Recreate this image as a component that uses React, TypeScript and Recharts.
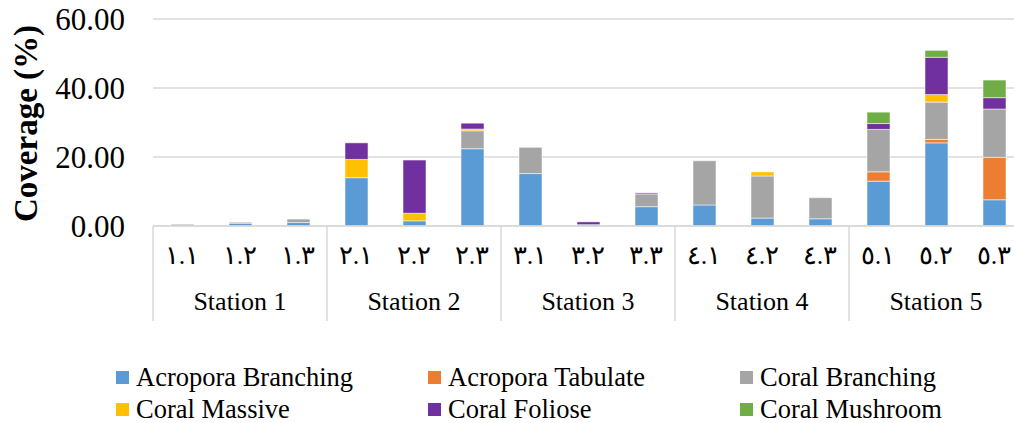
import React from 'react';
import { BarChart, Bar, XAxis, YAxis, CartesianGrid, Legend } from 'recharts';

// Sampling sites (three transects per station)
const subLabels = ['١.١', '١.٢', '١.٣', '٢.١', '٢.٢', '٢.٣', '٣.١', '٣.٢', '٣.٣', '٤.١', '٤.٢', '٤.٣', '٥.١', '٥.٢', '٥.٣'];
const stationNames = ['Station 1', 'Station 2', 'Station 3', 'Station 4', 'Station 5'];

// Coverage (%) per life form
const acroporaBranching = [0, 0.8, 1.0, 14.0, 1.5, 22.4, 15.2, 0.4, 5.6, 6.1, 2.3, 2.1, 13.0, 24.1, 7.6];
const acroporaTabulate = [0, 0, 0, 0, 0, 0, 0, 0, 0, 0, 0, 0, 2.7, 1.0, 12.3];
const coralBranching = [0.5, 0.3, 1.0, 0, 0, 5.2, 7.6, 0, 3.7, 12.8, 12.2, 6.1, 12.3, 10.8, 14.0];
const coralMassive = [0, 0, 0, 5.3, 2.2, 0.5, 0, 0, 0, 0, 1.2, 0, 0, 2.2, 0];
const coralFoliose = [0, 0, 0, 4.8, 15.4, 1.7, 0, 0.8, 0.3, 0, 0, 0, 1.7, 10.8, 3.3];
const coralMushroom = [0, 0, 0, 0, 0, 0, 0, 0, 0, 0, 0, 0, 3.3, 2.0, 5.1];

const yTicks = [0, 20, 40, 60];

const SERIES = [
  { key: 'acroporaBranching', name: 'Acropora Branching', color: '#5B9BD5', values: acroporaBranching },
  { key: 'acroporaTabulate', name: 'Acropora Tabulate', color: '#ED7D31', values: acroporaTabulate },
  { key: 'coralBranching', name: 'Coral Branching', color: '#A5A5A5', values: coralBranching },
  { key: 'coralMassive', name: 'Coral Massive', color: '#FFC000', values: coralMassive },
  { key: 'coralFoliose', name: 'Coral Foliose', color: '#7030A0', values: coralFoliose },
  { key: 'coralMushroom', name: 'Coral Mushroom', color: '#70AD47', values: coralMushroom },
];

const data = subLabels.map((sub, i) => {
  const row: Record<string, string | number> = { sub, station: stationNames[Math.floor(i / 3)] };
  SERIES.forEach((s) => {
    row[s.key] = s.values[i];
  });
  return row;
});

const SERIF = "'Liberation Serif', 'Times New Roman', serif";
const GRID = '#d9d9d9';

// Two-level category axis: transect label, station label and group separators
const GroupTick = (props: any) => {
  const { x, y, payload } = props;
  const i: number = payload.index;
  const half: number = payload.offset || 29;
  return (
    <g>
      <text x={x} y={y + 38} textAnchor="middle" fontSize={26} fontFamily={SERIF} fill="#000">
        {payload.value}
      </text>
      {i % 3 === 1 && (
        <text x={x} y={y + 84} textAnchor="middle" fontSize={26} fontFamily={SERIF} fill="#000">
          {stationNames[Math.floor(i / 3)]}
        </text>
      )}
      {i % 3 === 0 && <line x1={x - half} x2={x - half} y1={y} y2={y + 95} stroke={GRID} strokeWidth={1.5} />}
      {i === subLabels.length - 1 && (
        <line x1={x + half} x2={x + half} y1={y} y2={y + 95} stroke={GRID} strokeWidth={1.5} />
      )}
    </g>
  );
};

const YTitle = (props: any) => {
  const vb = props.viewBox || { x: 0, y: 0, height: 0 };
  const cx = vb.x + 37;
  const cy = vb.y + vb.height / 2 + 1;
  return (
    <text
      x={cx}
      y={cy}
      transform={`rotate(-90 ${cx} ${cy})`}
      textAnchor="middle"
      fontSize={33}
      fontWeight="bold"
      fontFamily={SERIF}
      fill="#000"
    >
      Coverage (%)
    </text>
  );
};

const renderLegend = () => (
  <div style={{ position: 'relative', width: 1014, height: 100, fontFamily: SERIF, fontSize: 26.5, color: '#000' }}>
    {SERIES.map((s, i) => (
      <div
        key={s.key}
        style={{
          position: 'absolute',
          left: 116 + (i % 3) * 312,
          top: 43 + Math.floor(i / 3) * 32,
          height: 22,
          lineHeight: '22px',
          display: 'flex',
          alignItems: 'center',
          whiteSpace: 'nowrap',
        }}
      >
        <span style={{ display: 'inline-block', width: 13, height: 13, background: s.color, marginRight: 7 }} />
        {s.name}
      </div>
    ))}
  </div>
);

export default function App() {
  return (
    <>
      <style>{'html, body { margin: 0; padding: 0; overflow: hidden; }'}</style>
      <div style={{ width: 1014, height: 423, overflow: 'hidden', background: '#fff' }}>
        <BarChart width={1040} height={423} data={data} margin={{ top: 19, right: 17, left: 0, bottom: 0 }}>
          <CartesianGrid vertical={false} stroke={GRID} strokeWidth={1.5} />
          <XAxis
            dataKey="sub"
            interval={0}
            height={97}
            tickSize={0}
            tickMargin={0}
            tickLine={false}
            axisLine={{ stroke: GRID, strokeWidth: 1.5 }}
            tick={<GroupTick />}
          />
          <YAxis
            width={153}
            domain={[0, 60]}
            ticks={yTicks}
            interval={0}
            axisLine={false}
            tickLine={false}
            tickSize={6}
            tickMargin={22}
            tickFormatter={(v: number) => v.toFixed(2)}
            tick={{ fontSize: 31, fontFamily: SERIF, fill: '#000' }}
            label={<YTitle />}
          />
          <Legend verticalAlign="bottom" align="left" content={renderLegend} wrapperStyle={{ left: 0, width: 1014 }} />
          {SERIES.map((s) => (
            <Bar
              key={s.key}
              dataKey={s.key}
              name={s.name}
              stackId="cover"
              fill={s.color}
              barSize={23}
              stroke="rgba(255,255,255,0.5)"
              strokeWidth={1}
              isAnimationActive={false}
            />
          ))}
        </BarChart>
      </div>
    </>
  );
}
